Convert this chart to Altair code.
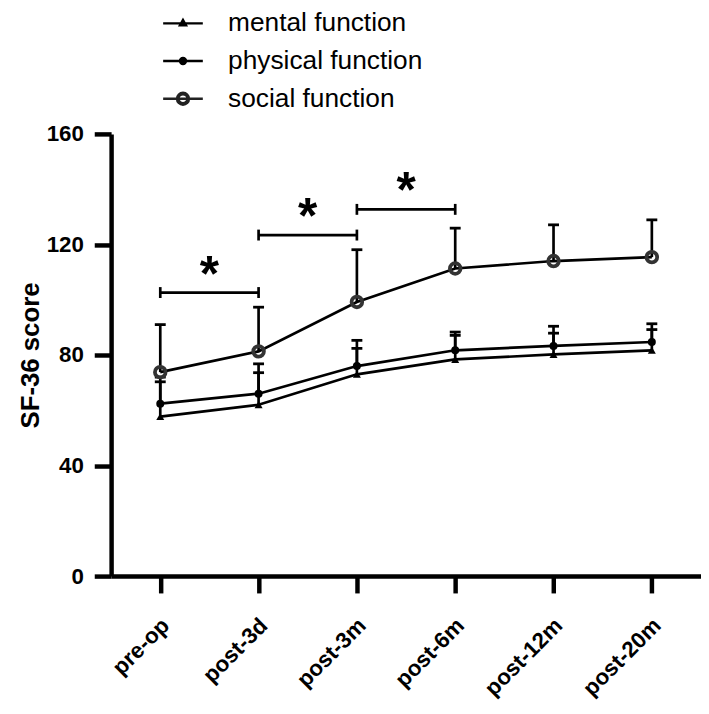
import altair as alt
import pandas as pd

categories = ["pre-op", "post-3d", "post-3m", "post-6m", "post-12m", "post-20m"]
series_names = ["mental function", "physical function", "social function"]

mental_mean = [57.7, 62.0, 73.0, 78.4, 80.2, 81.7]
mental_upper = [70.3, 73.6, 82.4, 87.1, 87.9, 89.2]
physical_mean = [62.4, 66.0, 76.0, 81.7, 83.3, 84.7]
physical_upper = [72.0, 76.8, 85.3, 88.3, 90.4, 91.3]
social_mean = [73.8, 81.3, 99.2, 111.3, 114.0, 115.4]
social_upper = [91.0, 97.3, 118.1, 125.9, 127.1, 128.9]

bracket_start = [0, 1, 2]
bracket_end = [1, 2, 3]
bracket_level = [102.6, 123.4, 132.7]
bracket_label = ["*", "*", "*"]

legend_paths = [
    "M-1,0H1M0,-0.17L0.15,0.1L-0.15,0.1Z",
    "M-1,0H1M0.15,0A0.15,0.15,0,1,1,-0.15,0A0.15,0.15,0,1,1,0.15,0Z",
    "M-1,0H1M0.3,0A0.3,0.3,0,1,1,-0.3,0A0.3,0.3,0,1,1,0.3,0Z"
    "M0.23,0A0.23,0.23,0,1,0,-0.23,0A0.23,0.23,0,1,0,0.23,0Z",
]
legend_colors = ["black", "black", "#222222"]

rows = []
for name, means, uppers in zip(series_names,
                               [mental_mean, physical_mean, social_mean],
                               [mental_upper, physical_upper, social_upper]):
    for i, (m, u) in enumerate(zip(means, uppers)):
        rows.append({"series": name, "idx": i, "mean": m, "upper": u})
df = pd.DataFrame(rows)

br = pd.DataFrame({"a": bracket_start, "b": bracket_end,
                   "level": bracket_level, "label": bracket_label})

FONT = "Liberation Sans"
label_expr = "[" + ",".join("'%s'" % c for c in categories) + "][datum.value]"

xscale = alt.Scale(domain=[-0.5, len(categories) - 0.5], nice=False, zero=False)
yscale = alt.Scale(domain=[0, 160], nice=False)

x_axis = alt.Axis(values=list(range(len(categories))), labelExpr=label_expr,
                  title=None, labelAngle=-45, labelAlign="right",
                  labelBaseline="middle", labelPadding=29, labelOffset=5,
                  grid=False, labelFontSize=22.5)
y_axis = alt.Axis(values=[0, 40, 80, 120, 160], title="SF-36 score",
                  titleFontSize=26, titleFont=FONT, titleFontWeight="bold",
                  titleColor="black", titlePadding=3, labelPadding=11,
                  grid=False, labelFontSize=22.5)


def X(field):
    return alt.X(field + ":Q", scale=xscale, axis=x_axis)


def Y(field):
    return alt.Y(field + ":Q", scale=yscale, axis=y_axis)


base = alt.Chart(df)

lines = base.mark_line(color="black", strokeWidth=2.7).encode(
    x=X("idx"), y=Y("mean"), detail="series:N")

err = base.mark_rule(color="black", strokeWidth=2.7).encode(
    x=X("idx"), y=Y("mean"), y2="upper:Q")

caps = base.mark_tick(color="black", orient="horizontal", size=11,
                      thickness=2.8, opacity=1).encode(
    x=X("idx"), y=Y("upper"))

mental_pts = base.transform_filter(alt.datum.series == series_names[0]).mark_point(
    shape="triangle-up", filled=True, color="black", size=65, opacity=1).encode(
    x=X("idx"), y=Y("mean"))

physical_pts = base.transform_filter(alt.datum.series == series_names[1]).mark_point(
    shape="circle", filled=True, color="black", size=65, opacity=1).encode(
    x=X("idx"), y=Y("mean"))

social_pts = base.transform_filter(alt.datum.series == series_names[2]).mark_point(
    shape="circle", filled=False, stroke="#333333", strokeWidth=3.8, size=115,
    opacity=1).encode(
    x=X("idx"), y=Y("mean"))

leg = alt.Legend(title=None, orient="none", legendX=51, legendY=-133,
                 direction="vertical", labelFontSize=26.5, labelFont=FONT,
                 labelColor="black", labelOffset=24, rowPadding=3,
                 symbolSize=1600, symbolStrokeWidth=2.5, symbolOpacity=1,
                 labelLimit=400)

legend_layer = base.transform_filter("false").mark_point(
    strokeWidth=2.5, size=1600, opacity=1).encode(
    x=X("idx"), y=Y("mean"),
    shape=alt.Shape("series:N",
                    scale=alt.Scale(domain=series_names, range=legend_paths),
                    legend=leg),
    fill=alt.Fill("series:N",
                  scale=alt.Scale(domain=series_names, range=legend_colors),
                  legend=leg),
    stroke=alt.Stroke("series:N",
                      scale=alt.Scale(domain=series_names, range=legend_colors),
                      legend=leg),
)

bchart = alt.Chart(br)
brackets = bchart.mark_rule(color="black", strokeWidth=2.7).encode(
    x=X("a"), x2="b:Q", y=Y("level"))

bracket_ends = bchart.transform_fold(["a", "b"], as_=["end", "pos"]).mark_tick(
    color="black", orient="vertical", size=11, thickness=2.7, opacity=1).encode(
    x=X("pos"), y=Y("level"))

stars = bchart.transform_calculate(mid="(datum.a + datum.b) / 2").mark_text(
    font=FONT, fontWeight="bold", fontSize=50, color="black", dy=-2,
    align="center", baseline="alphabetic").encode(
    x=X("mid"), y=Y("level"), text="label:N")

chart = alt.layer(
    lines, err, caps, mental_pts, physical_pts, social_pts,
    brackets, bracket_ends, stars, legend_layer
).properties(
    width=595, height=446,
    autosize=alt.AutoSizeParams(type="none"),
    padding={"left": 104, "top": 124, "right": 0, "bottom": 124},
).configure_view(stroke=None).configure_axis(
    domainColor="black", domainWidth=4.5, tickColor="black", tickWidth=4.5,
    tickSize=17, labelFont=FONT, labelFontWeight="bold", labelColor="black",
)

chart.save("out.html", embed_options={"renderer": "svg", "actions": False})
